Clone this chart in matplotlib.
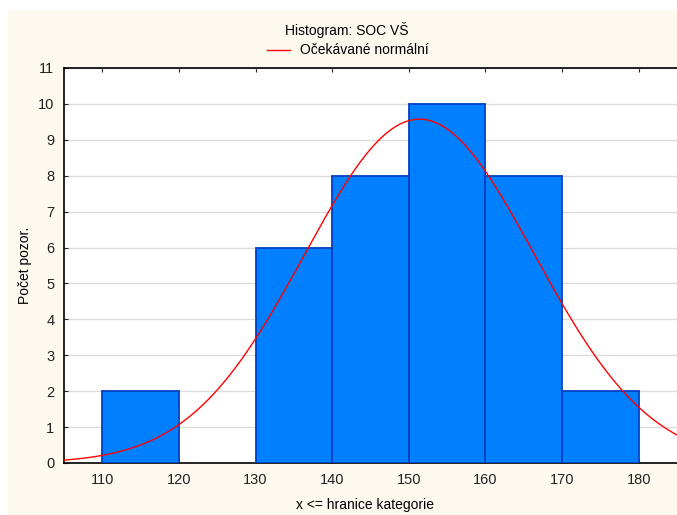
import numpy as np
import matplotlib.pyplot as plt
from matplotlib.patches import Rectangle
from matplotlib.lines import Line2D

plt.rcParams['font.family'] = ['Liberation Sans', 'DejaVu Sans']

# histogram classes (upper bound inclusive) and counts
bin_edges = [110, 120, 130, 140, 150, 160, 170, 180]
counts = [2, 0, 6, 8, 10, 8, 2]

# expected normal curve
mean_soc = 151.4
sd_soc = 15.0
n_obs = sum(counts)
bin_width = 10

cream = '#fdf9ee'
bar_face = '#0080ff'
bar_edge = '#0040c0'

fig = plt.figure(figsize=(6.77, 5.15), dpi=100)
fig.patch.set_facecolor('white')
fig.patches.append(Rectangle((8 / 677, 0), 1, 1 - 10 / 515, transform=fig.transFigure,
                             facecolor=cream, edgecolor='none', zorder=-10))

ax = fig.add_axes([64 / 677, 52 / 515, 613 / 677, 395 / 515])
ax.set_facecolor('white')

# empty classes get no bar
lefts = [e for e, c in zip(bin_edges[:-1], counts) if c > 0]
heights = [c for c in counts if c > 0]
ax.bar(lefts, heights, width=bin_width, align='edge', color=bar_face,
       edgecolor=bar_edge, linewidth=1.3, zorder=3)

xs = np.linspace(105, 185, 400)
ys = n_obs * bin_width / (sd_soc * np.sqrt(2 * np.pi)) * np.exp(-0.5 * ((xs - mean_soc) / sd_soc) ** 2)
ax.plot(xs, ys, color='red', linewidth=1.0, zorder=4)

ax.set_xlim(105, 185)
ax.set_ylim(0, 11)
ax.set_xticks(range(110, 181, 10))
ax.set_yticks(range(0, 12))
ax.yaxis.grid(True, color='#dcdcdc', linewidth=1.0, zorder=0)
ax.set_axisbelow(True)

ax.spines['right'].set_visible(False)
for side in ['left', 'bottom', 'top']:
    ax.spines[side].set_linewidth(1.2)
    ax.spines[side].set_color('black')

ax.tick_params(axis='both', direction='in', length=3, width=0.8, labelsize=10.5,
               colors='#222222')
ax.tick_params(axis='x', top=True, pad=7)
ax.tick_params(axis='y', right=False, pad=7)

fig.text(365 / 677, 1 - 505 / 515, 'x <= hranice kategorie', ha='center', va='center', fontsize=10)
fig.text(25 / 677, 1 - 265 / 515, 'Počet pozor.', ha='center', va='center',
         rotation=90, fontsize=10)

fig.text(347 / 677, 1 - 30 / 515, 'Histogram: SOC VŠ', ha='center', va='center', fontsize=10)
fig.add_artist(Line2D([267 / 677, 290 / 677], [1 - 50 / 515, 1 - 50 / 515],
                      transform=fig.transFigure, color='red', linewidth=1.0))
fig.text(300 / 677, 1 - 50 / 515, 'Očekávané normální', ha='left', va='center', fontsize=10)

fig.savefig('out.png', dpi=100, facecolor=fig.get_facecolor())
